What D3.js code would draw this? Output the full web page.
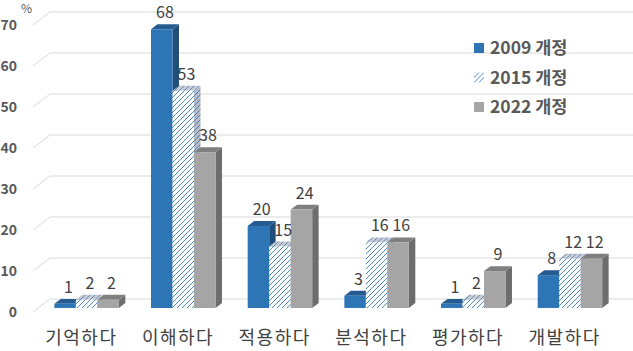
<!DOCTYPE html>
<html>
<head>
<meta charset="utf-8">
<script src="https://cdn.jsdelivr.net/npm/d3@7"></script>
<style>
  body { margin: 0; background: #fff; }
  svg { display: block; font-family: "Noto Sans CJK KR", "Noto Sans", sans-serif; }
</style>
</head>
<body>
<div id="chart"></div>
<script>
const categories = ["기억하다", "이해하다", "적용하다", "분석하다", "평가하다", "개발하다"];
const seriesNames = ["2009 개정", "2015 개정", "2022 개정"];
const values2009 = [1, 68, 20, 3, 1, 8];
const values2015 = [2, 53, 15, 16, 2, 12];
const values2022 = [2, 38, 24, 16, 9, 12];
const yTicks = [0, 10, 20, 30, 40, 50, 60, 70];

const width = 633;
const height = 351;

// depth of the floor (front -> back wall) and the slot the bars take in it
const DX = 17, DY = 13;
const T0 = 0.31, T1 = 0.69;

const svg = d3.select("#chart")
    .append("svg")
    .attr("width", width)
    .attr("height", height);

const defs = svg.append("defs");

function hatch(id, bg, stroke) {
    const p = defs.append("pattern")
        .attr("id", id)
        .attr("patternUnits", "userSpaceOnUse")
        .attr("width", 5)
        .attr("height", 5);
    p.append("rect").attr("width", 5).attr("height", 5).attr("fill", bg);
    p.append("path")
        .attr("d", "M-1,1 l2,-2 M0,5 l5,-5 M4,6 l2,-2")
        .attr("stroke", stroke)
        .attr("stroke-width", 1);
}
hatch("hatchFront", "#ffffff", "#4a8ad0");
hatch("hatchSide", "#b4bcc8", "#5d7ea6");
hatch("hatchTop", "#c3cad4", "#6f8db2");

const styles = [
    { front: "#2e75b6", side: "#1f4e79", top: "#245c91" },
    { front: "url(#hatchFront)", side: "url(#hatchSide)", top: "url(#hatchTop)" },
    { front: "#a5a5a5", side: "#6d6d6d", top: "#7f7f7f" }
];

const x = d3.scaleBand()
    .domain(categories)
    .range([33, 613]);

const groupW = 64.5;
const xSub = d3.scaleBand()
    .domain(seriesNames)
    .range([(x.bandwidth() - groupW) / 2, (x.bandwidth() + groupW) / 2]);

const y = d3.scaleLinear()
    .domain([0, 70])
    .range([312, 25]);

// project a point of the 3D box: front-plane x, value, depth fraction
const P = (xf, v, t) => [xf + DX * t, y(v) - DY * t];
const poly = pts => "M" + pts.map(p => p.join(",")).join("L") + "Z";

// Gridlines: a short run across the side wall, then along the back wall
const grid = svg.append("g");
yTicks.forEach(v => {
    const a = P(33, v, 0), b = P(33, v, 1);
    grid.append("path")
        .attr("d", `M${a[0]},${a[1]}L${b[0]},${b[1]}L${width},${b[1]}`)
        .attr("fill", "none")
        .attr("stroke", "#d9d9d9")
        .attr("stroke-width", 1);
});

// Y tick labels
svg.append("g")
    .selectAll("text")
    .data(yTicks)
    .join("text")
    .attr("x", 17)
    .attr("y", d => y(d) + 5)
    .attr("text-anchor", "end")
    .style("font-size", "14px")
    .style("font-weight", "bold")
    .style("fill", "#595959")
    .text(d => d);

svg.append("text")
    .attr("x", 21)
    .attr("y", 13)
    .style("font-size", "12px")
    .style("fill", "#595959")
    .text("%");

// Bars
const rows = [values2009, values2015, values2022];
const bars = [];
categories.forEach((c, i) => {
    seriesNames.forEach((s, j) => {
        bars.push({ cat: c, series: s, idx: j, value: rows[j][i] });
    });
});

const barG = svg.append("g");
bars.forEach(d => {
    const x0 = x(d.cat) + xSub(d.series);
    const x1 = x0 + xSub.bandwidth();
    const st = styles[d.idx];
    const g = barG.append("g");
    // right side
    g.append("path")
        .attr("d", poly([P(x1, 0, T0), P(x1, d.value, T0), P(x1, d.value, T1), P(x1, 0, T1)]))
        .attr("fill", st.side);
    // top
    g.append("path")
        .attr("d", poly([P(x0, d.value, T0), P(x1, d.value, T0), P(x1, d.value, T1), P(x0, d.value, T1)]))
        .attr("fill", st.top);
    // front
    g.append("path")
        .attr("d", poly([P(x0, 0, T0), P(x1, 0, T0), P(x1, d.value, T0), P(x0, d.value, T0)]))
        .attr("fill", st.front);
});

// Value labels
svg.append("g")
    .selectAll("text")
    .data(bars)
    .join("text")
    .attr("x", d => x(d.cat) + xSub(d.series) + xSub.bandwidth() / 2 + DX * (T0 + T1) / 2)
    .attr("y", d => y(d.value) - DY * T1 - 6)
    .attr("text-anchor", "middle")
    .style("font-size", "16px")
    .style("fill", "#404040")
    .text(d => d.value);

// Category labels
svg.append("g")
    .selectAll("text")
    .data(categories)
    .join("text")
    .attr("x", d => x(d) + x.bandwidth() / 2)
    .attr("y", 344)
    .attr("text-anchor", "middle")
    .style("font-size", "18px")
    .style("letter-spacing", "1.5px")
    .style("fill", "#404040")
    .text(d => d);

// Legend
const legend = svg.append("g")
    .attr("transform", "translate(474, 48)");

const legendItems = legend.selectAll("g")
    .data(seriesNames)
    .join("g")
    .attr("transform", (d, i) => `translate(0, ${i * 29.5})`);

legendItems.append("rect")
    .attr("y", -5)
    .attr("width", 10)
    .attr("height", 10)
    .attr("fill", (d, i) => styles[i].front);

legendItems.append("text")
    .attr("x", 16)
    .attr("y", 6)
    .style("font-size", "17.5px")
    .style("font-weight", "bold")
    .style("fill", "#595959")
    .text(d => d);
</script>
</body>
</html>
